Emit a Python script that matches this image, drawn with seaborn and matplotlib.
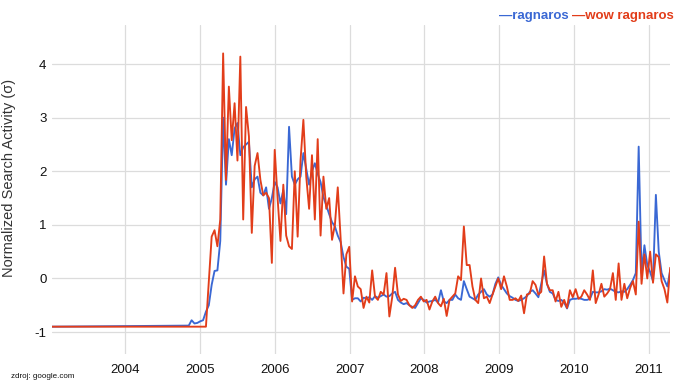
import matplotlib
matplotlib.use("Agg")
import matplotlib.pyplot as plt
import seaborn as sns
import pandas as pd

# ---------------- data ----------------
series_names = ["ragnaros", "wow ragnaros"]
flat_start = "2003-01-08"      # start of the flat (no data) segment
first_sample = "2004-11-06"    # first bi-weekly sample
sample_step = "14D"
flat_value = -0.9

ragnaros = [
    -0.88, -0.78, -0.84, -0.83, -0.80, -0.78, -0.62, -0.50, -0.12, 0.14,
    0.15, 0.70, 3.00, 1.75, 2.60, 2.30, 2.80, 2.90, 2.30, 2.45,
    2.50, 2.55, 1.70, 1.85, 1.90, 1.60, 1.55, 1.70, 1.30, 1.50,
    1.80,
    1.70, 1.40, 1.65, 1.20, 2.83, 1.90, 1.75, 1.85, 1.90, 2.34,
    2.05, 1.75, 2.00, 2.15, 1.95, 1.80, 1.52, 1.36, 1.20, 1.05,
    0.97, 0.80, 0.68, 0.40, 0.22, 0.18, -0.40, -0.37, -0.37, -0.43,
    -0.36,
    -0.37, -0.35, -0.40, -0.33, -0.36, -0.33, -0.30, -0.34, -0.33, -0.28,
    -0.25, -0.40, -0.45, -0.48, -0.46, -0.50, -0.53, -0.55, -0.46, -0.37,
    -0.40, -0.45, -0.43, -0.42, -0.40, -0.45, -0.22, -0.43, -0.46, -0.40,
    -0.40,
    -0.30, -0.37, -0.40, -0.05, -0.20, -0.34, -0.37, -0.40, -0.30, -0.25,
    -0.20, -0.30, -0.34, -0.30, -0.10, 0.02, -0.12, -0.20, -0.28, -0.33,
    -0.36, -0.40, -0.42, -0.40, -0.37, -0.33, -0.25, -0.22, -0.28, -0.35,
    -0.10, 0.15, -0.10, -0.25, -0.28,
    -0.40, -0.42, -0.40, -0.45, -0.56, -0.40, -0.38, -0.38, -0.37, -0.38,
    -0.40, -0.40, -0.38, -0.25, -0.26, -0.26, -0.24, -0.20, -0.21, -0.19,
    -0.22, -0.25, -0.26, -0.24, -0.25, -0.20, -0.12, -0.03, 0.10, 2.46,
    0.10, 0.62, 0.25, 0.12, -0.05, 1.56, 0.50, 0.10, -0.03, -0.15,
    0.15,
]

wow_ragnaros = [
    -0.90, -0.90, -0.90, -0.90, -0.90, -0.90, -0.90, -0.06, 0.78, 0.90,
    0.60, 1.10, 4.20, 1.84, 3.58, 2.58, 3.27, 2.20, 4.14, 1.10,
    3.20, 2.65, 0.85, 2.10, 2.34, 1.84, 1.55, 1.60, 1.50, 0.29,
    2.40,
    1.50, 0.70, 1.75, 0.80, 0.60, 0.55, 2.00, 0.78, 2.20, 2.96,
    1.90, 1.30, 2.30, 1.10, 2.60, 0.80, 1.90, 1.30, 1.50, 0.72,
    1.00, 1.70, 0.75, -0.28, 0.45, 0.59, -0.43, 0.04, -0.15, -0.20,
    -0.55,
    -0.34, -0.45, 0.15, -0.34, -0.40, -0.25, -0.30, 0.10, -0.71, -0.35,
    0.20, -0.30, -0.42, -0.38, -0.40, -0.50, -0.55, -0.50, -0.40, -0.34,
    -0.43, -0.40, -0.58, -0.43, -0.34, -0.46, -0.52, -0.38, -0.70, -0.40,
    -0.34,
    -0.28, 0.04, -0.03, 0.97, 0.25, 0.25, -0.15, -0.40, -0.46, 0.00,
    -0.37, -0.34, -0.46, -0.30, -0.15, 0.00, -0.20, 0.04, -0.15, -0.40,
    -0.40, -0.37, -0.42, -0.32, -0.65, -0.30, -0.28, -0.05, -0.12, -0.30,
    -0.25, 0.41, -0.10, -0.22, -0.22,
    -0.43, -0.25, -0.53, -0.40, -0.55, -0.22, -0.35, -0.20, -0.38, -0.34,
    -0.22, -0.30, -0.40, 0.15, -0.46, -0.30, -0.10, -0.34, -0.28, -0.20,
    0.10, -0.40, 0.28, -0.40, -0.10, -0.37, -0.18, -0.05, -0.30, 1.06,
    -0.10, 0.45, 0.00, 0.50, -0.08, 0.45, 0.40, -0.05, -0.20, -0.45,
    0.20,
]

year_ticks = [2004, 2005, 2006, 2007, 2008, 2009, 2010, 2011]
y_ticks = [-1, 0, 1, 2, 3, 4]
y_label = "Normalized Search Activity (\u03c3)"
source_text = "zdroj: google.com"

# ---------------- build table ----------------
dates = [pd.Timestamp(flat_start)] + list(
    pd.date_range(first_sample, periods=len(ragnaros), freq=sample_step))
df = pd.concat([
    pd.DataFrame({"date": dates, "value": [flat_value] + ragnaros,
                  "series": series_names[0]}),
    pd.DataFrame({"date": dates, "value": [flat_value] + wow_ragnaros,
                  "series": series_names[1]}),
], ignore_index=True)

# ---------------- style ----------------
sns.set_style("whitegrid", {"grid.color": "#dcdcdc", "axes.edgecolor": "white"})
plt.rcParams["font.family"] = ["Liberation Sans", "DejaVu Sans"]

blue = "#3a68d4"
red = "#e23d1a"

fig = plt.figure(figsize=(7.0, 3.83), dpi=100)
ax = fig.add_axes([52 / 700, 1 - 354 / 383, 618 / 700, 329 / 383])

sns.lineplot(data=df, x="date", y="value", hue="series",
             hue_order=series_names, palette=[blue, red],
             linewidth=1.35, legend=False, estimator=None, sort=False, ax=ax)

ax.set_xlim(pd.Timestamp(flat_start), pd.Timestamp("2011-04-15"))
ax.set_ylim(-1.41, 4.73)
ax.set_xticks([pd.Timestamp(f"{y}-01-01") for y in year_ticks])
ax.set_xticklabels([str(y) for y in year_ticks])
ax.set_yticks(y_ticks)
ax.set_yticklabels([str(v) for v in y_ticks])
ax.grid(True, color="#dcdcdc", linewidth=0.9)
for s in ax.spines.values():
    s.set_visible(False)
ax.tick_params(axis="x", length=0, pad=7, labelsize=9.5, labelcolor="#111111")
ax.tick_params(axis="y", length=0, pad=4, labelsize=9.5, labelcolor="#111111")
ax.set_xlabel("")
ax.set_ylabel(y_label, fontsize=10.5, color="#333333")
ax.yaxis.set_label_coords(-0.058, 0.535)

# legend as coloured text (top right)
fig.text(499 / 700, 1 - 16 / 383, "\u2014" + series_names[0], color=blue,
         fontsize=9.5, fontweight="bold", ha="left", va="center")
fig.text(674 / 700, 1 - 16 / 383, "\u2014" + series_names[1], color=red,
         fontsize=9.5, fontweight="bold", ha="right", va="center")

fig.text(11 / 700, 1 - 376 / 383, source_text, fontsize=5.8, color="#111111",
         ha="left", va="center")

fig.savefig("out.png", dpi=100)
